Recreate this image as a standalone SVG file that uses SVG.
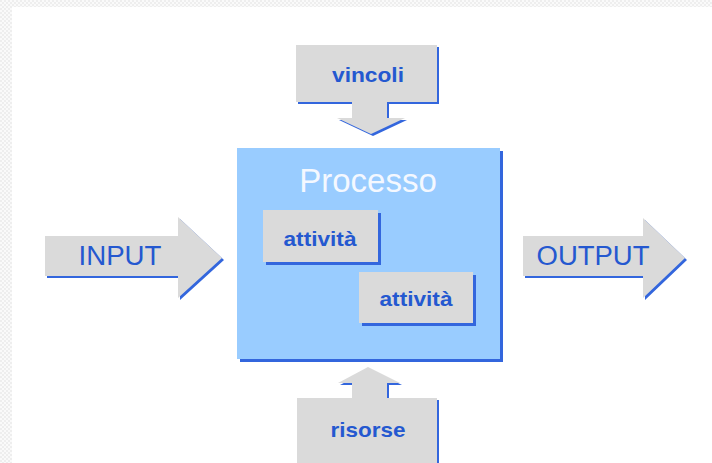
<svg xmlns="http://www.w3.org/2000/svg" width="712" height="463" viewBox="0 0 712 463">
  <defs>
    <pattern id="chk" width="4" height="4" patternUnits="userSpaceOnUse">
      <rect width="4" height="4" fill="#fafafa"/>
      <rect width="2" height="2" fill="#eeeeee"/>
      <rect x="2" y="2" width="2" height="2" fill="#eeeeee"/>
    </pattern>
  </defs>
  <style>
    .gray { fill: #dadada; }
    .shadow { fill: #3366dd; }
    .lbl { font-family: "Liberation Sans", Arial, sans-serif; font-weight: bold; font-size: 21px; fill: #2458d0; text-anchor: middle; }
    .io { font-family: "Liberation Sans", Arial, sans-serif; font-size: 27px; fill: #2458d0; text-anchor: middle; }
    .title { font-family: "Liberation Sans", Arial, sans-serif; font-size: 33px; fill: #f4f8ff; text-anchor: middle; }
  </style>
  <rect width="712" height="463" fill="#ffffff"/>
  <rect x="0" y="0" width="712" height="7" fill="url(#chk)"/>
  <rect x="0" y="0" width="12" height="463" fill="url(#chk)"/>

  <g id="vincoli">
    <path class="shadow" transform="translate(2,2)" d="M296,45 H437 V102 H387 V118 H405 L371,134 L337,118 H352 V102 H296 Z"/>
    <path class="gray" d="M296,45 H437 V102 H387 V118 H405 L371,134 L337,118 H352 V102 H296 Z"/>
    <text class="lbl" x="368" y="82" textLength="72" lengthAdjust="spacingAndGlyphs">vincoli</text>
  </g>

  <g id="processo">
    <rect class="shadow" x="240" y="151" width="263" height="211"/>
    <rect x="237" y="148" width="263" height="211" fill="#99ccff"/>
    <text class="title" x="368" y="192">Processo</text>
  </g>

  <g id="attivita1">
    <rect class="shadow" x="266" y="213" width="115" height="52"/>
    <rect class="gray" x="263" y="210" width="115" height="52"/>
    <text class="lbl" x="320" y="246" textLength="73" lengthAdjust="spacingAndGlyphs">attività</text>
  </g>

  <g id="attivita2">
    <rect class="shadow" x="362" y="275" width="114" height="51"/>
    <rect class="gray" x="359" y="272" width="114" height="51"/>
    <text class="lbl" x="416" y="306" textLength="73" lengthAdjust="spacingAndGlyphs">attività</text>
  </g>

  <g id="input">
    <path class="shadow" transform="translate(2,2)" d="M45,236 H178 V217 L222,258 L178,298 V276 H45 Z"/>
    <path class="gray" d="M45,236 H178 V217 L222,258 L178,298 V276 H45 Z"/>
    <text class="io" x="120" y="265" textLength="83" lengthAdjust="spacingAndGlyphs">INPUT</text>
  </g>

  <g id="output">
    <path class="shadow" transform="translate(2,2)" d="M523,236 H643 V218 L685,258 L643,298 V276 H523 Z"/>
    <path class="gray" d="M523,236 H643 V218 L685,258 L643,298 V276 H523 Z"/>
    <text class="io" x="593" y="265" textLength="113" lengthAdjust="spacingAndGlyphs">OUTPUT</text>
  </g>

  <g id="risorse">
    <path class="shadow" transform="translate(2,2)" d="M297,398 H352 V383 H338 L368,367 L400,383 H387 V398 H437 V470 H297 Z"/>
    <path class="gray" d="M297,398 H352 V383 H338 L368,367 L400,383 H387 V398 H437 V470 H297 Z"/>
    <text class="lbl" x="368" y="437" textLength="75" lengthAdjust="spacingAndGlyphs">risorse</text>
  </g>

  <g id="connectors"/>
</svg>
